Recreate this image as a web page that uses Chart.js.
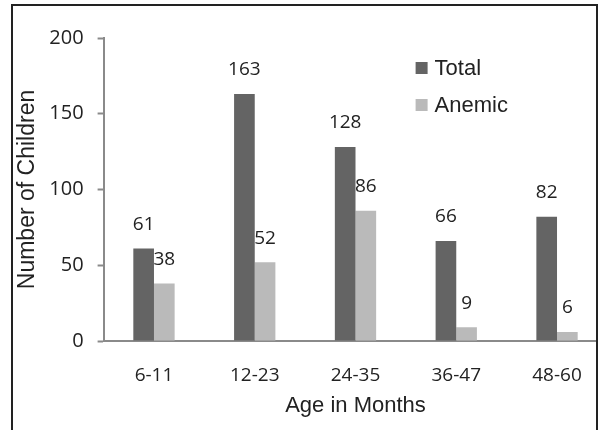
<!DOCTYPE html>
<html>
<head>
<meta charset="utf-8">
<script src="https://cdn.jsdelivr.net/npm/chart.js@4/dist/chart.umd.min.js"></script>
<style>
  html, body { margin:0; padding:0; background:#fff; overflow:hidden; width:600px; height:430px; }
  #wrap { position:absolute; left:0; top:0; width:612px; height:430px; }
  #frame { position:absolute; left:11px; top:4px; width:583px; height:470px; border:2px solid #222; pointer-events:none; }
  #mask { position:absolute; left:598px; top:0; width:20px; height:430px; background:#fff; }
</style>
</head>
<body>
<div id="wrap"><canvas id="c"></canvas></div>
<div id="mask"></div>
<div id="frame"></div>
<script>
// ---- data ----
const categories = ['6-11', '12-23', '24-35', '36-47', '48-60'];
const totalValues = [61, 163, 128, 66, 82];
const anemicValues = [38, 52, 86, 9, 6];
const yTicks = [0, 50, 100, 150, 200];
const seriesNames = ['Total', 'Anemic'];
const xTitle = 'Age in Months';
const yTitle = 'Number of Children';

const TXT = '#222';
const AXIS = '#8a8a8a';
const NUMFONT = '"Open Sans", sans-serif';
const ARIAL = '"Liberation Sans", Arial, sans-serif';

const valueLabels = {
  id: 'valueLabels',
  afterDatasetsDraw(chart) {
    const ctx = chart.ctx;
    ctx.save();
    ctx.font = '19px ' + NUMFONT;
    ctx.fillStyle = TXT;
    ctx.textAlign = 'center';
    ctx.textBaseline = 'middle';
    chart.data.datasets.forEach((ds, di) => {
      const meta = chart.getDatasetMeta(di);
      meta.data.forEach((el, i) => {
        ctx.fillText(String(ds.data[i]), el.x, el.y - 24);
      });
    });
    ctx.restore();
  }
};

const customLegend = {
  id: 'customLegend',
  afterDraw(chart) {
    const ctx = chart.ctx;
    const a = chart.chartArea;
    ctx.save();
    ctx.font = '22px ' + ARIAL;
    ctx.textAlign = 'left';
    ctx.textBaseline = 'alphabetic';
    chart.data.datasets.forEach((ds, i) => {
      const base = a.top + 37 + i * 37;
      ctx.fillStyle = ds.backgroundColor;
      ctx.fillRect(a.left + 312, base - 13, 12, 12);
      ctx.fillStyle = TXT;
      ctx.fillText(ds.label, a.left + 331, base);
    });
    ctx.restore();
  }
};

new Chart(document.getElementById('c'), {
  type: 'bar',
  data: {
    labels: categories,
    datasets: [
      { label: seriesNames[0], data: totalValues, backgroundColor: '#646464' },
      { label: seriesNames[1], data: anemicValues, backgroundColor: '#bababa' }
    ]
  },
  options: {
    responsive: true,
    maintainAspectRatio: false,
    animation: false,
    devicePixelRatio: 1,
    datasets: { bar: { categoryPercentage: 0.41, barPercentage: 1.0 } },
    layout: { padding: { top: 38, right: 4.6, bottom: 0, left: 0 } },
    plugins: { legend: { display: false }, tooltip: { enabled: false } },
    scales: {
      x: {
        grid: { display: false, drawTicks: false },
        border: { display: true, color: AXIS, width: 2 },
        ticks: { color: TXT, font: { family: NUMFONT, size: 19 }, padding: 23, maxRotation: 0 },
        title: { display: true, text: xTitle, color: TXT, font: { family: ARIAL, size: 22 }, padding: { top: 0, bottom: 11 } },
        afterFit(s) { s.height = 89; }
      },
      y: {
        min: 0, max: 200,
        afterBuildTicks(s) { s.ticks = yTicks.map(v => ({ value: v })); },
        grid: { drawOnChartArea: false, drawTicks: true, tickLength: 6, tickColor: AXIS, tickWidth: 2 },
        border: { display: true, color: AXIS, width: 2 },
        ticks: { color: TXT, font: { family: NUMFONT, size: 20 }, padding: 14 },
        title: { display: true, text: yTitle, color: TXT, font: { family: ARIAL, size: 23 }, padding: { top: 14, bottom: 0 } },
        afterFit(s) { s.width = 103.6; }
      }
    }
  },
  plugins: [valueLabels, customLegend]
});
</script>
</body>
</html>
